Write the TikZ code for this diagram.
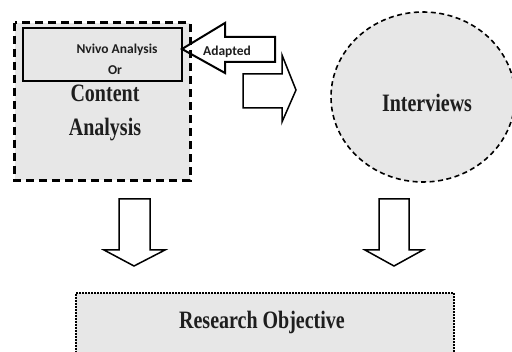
\documentclass[tikz,border=0pt]{standalone}
\usepackage{fontspec}
\usepackage{graphicx}
\setmainfont{Liberation Serif}
\newfontfamily\calfont{Carlito}
\definecolor{boxgray}{RGB}{231,231,231}
\definecolor{inkc}{RGB}{30,30,30}
\newcommand{\tallt}[1]{\scalebox{1}[1.25]{#1}}
\tikzset{
  serifbig/.style={font=\fontsize{20}{22}\selectfont\bfseries, text=inkc, inner sep=0pt},
  sanssmall/.style={font=\calfont\fontsize{13.5}{14}\selectfont\bfseries, text=inkc, inner sep=0pt},
  blockarrow/.style={draw=black, fill=white, line width=1.5pt, line join=miter},
}
\begin{document}
\begin{tikzpicture}[x=1pt,y=-1pt]
\useasboundingbox (0,0) rectangle (512,352);
\clip (0,0) rectangle (512,352);
% content analysis box (fill)
\node[fill=boxgray, minimum width=175pt, minimum height=157pt, inner sep=0pt] (ca) at (102.5,101.5) {};
% inner Nvivo box
\node[draw=black, fill=boxgray, line width=1.8pt, minimum width=159pt, minimum height=53pt, inner sep=0pt] (nvivo) at (102.5,54.5) {};
\node[sanssmall] (nv1) at (117,50) {Nvivo Analysis};
\node[sanssmall] (nv2) at (115,70) {Or};
\node[serifbig] (content) at (105,93) {\tallt{Content}};
\node[serifbig] (analysis) at (105,130) {\tallt{Analysis}};
% Adapted arrow
\draw[blockarrow, line width=2pt] (182,49) -- (225,23) -- (225,37) -- (275,37) -- (275,62) -- (225,62) -- (225,73) -- cycle;
\node[sanssmall] (adapted) at (227,52) {Adapted};
% dashed border on top
\draw[black, line width=3pt, dash pattern=on 8pt off 5pt] (ca.north west) rectangle (ca.south east);
% right arrow
\draw[blockarrow] (243,74) -- (282,74) -- (282,55) -- (296,90) -- (282,122) -- (282,108) -- (243,108) -- cycle;
% Interviews ellipse
\draw[fill=boxgray, line width=1.6pt, dash pattern=on 5pt off 3.5pt] (423,97) ellipse [x radius=92, y radius=85];
\node[serifbig] (interviews) at (427,103) {\tallt{Interviews}};
% down arrows
\draw[blockarrow] (119,199) -- (150,199) -- (150,250) -- (165,250) -- (134,266) -- (104,250) -- (119,250) -- cycle;
\draw[blockarrow] (379,199) -- (409,199) -- (409,250) -- (423,250) -- (394,266) -- (365,250) -- (379,250) -- cycle;
% research objective
\node[draw=black, fill=boxgray, line width=2pt, dash pattern=on 2pt off 1pt, minimum width=378pt, minimum height=80pt, inner sep=0pt, anchor=north west] (ro) at (75,292) {};
\node[serifbig] (rotext) at (262,322) {\tallt{Research Objective}};
\end{tikzpicture}
\end{document}
